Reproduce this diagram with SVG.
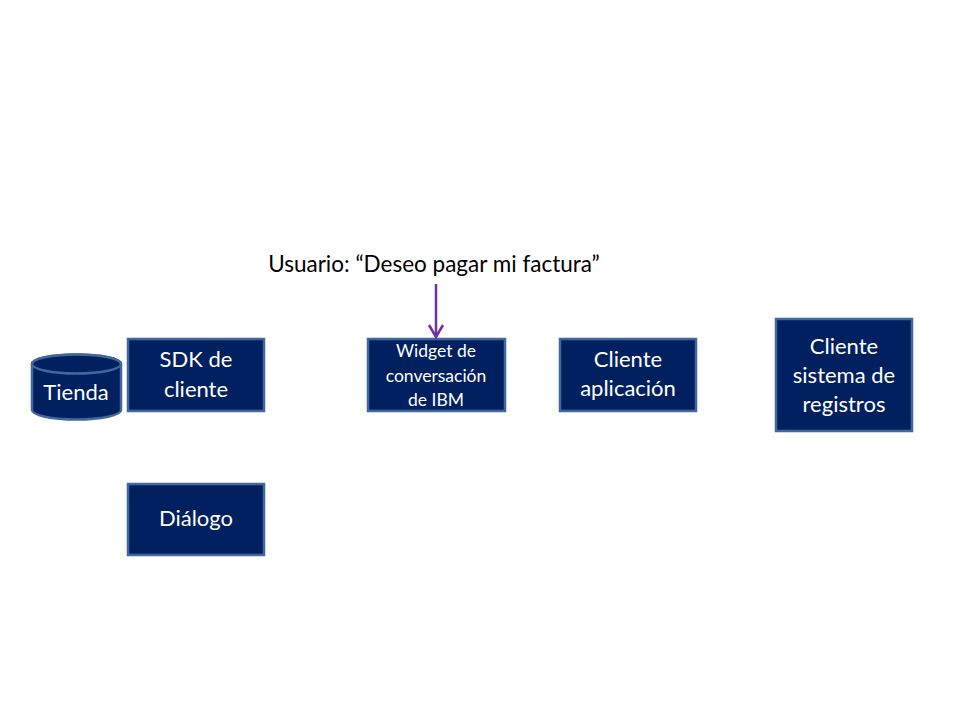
<svg xmlns="http://www.w3.org/2000/svg" width="960" height="720" viewBox="0 0 960 720">
<style>
.box{fill:#002060;stroke:#41689a;stroke-width:2.5}
.t{font-family:Lato,"Open Sans","Liberation Sans",sans-serif;fill:#ffffff;text-anchor:middle}
.l{font-size:22px}
.s{font-size:17.5px}
.arrow{fill:none;stroke:#7030a0;stroke-width:2.5}
</style>
<rect width="960" height="720" fill="#ffffff"/>
<g id="tienda">
<path class="box" d="M32,364 L32,410 A44.5,9.5 0 0 0 121,410 L121,364 A44.5,9.5 0 0 0 32,364 Z"/>
<ellipse class="box" cx="76.5" cy="364" rx="44.5" ry="9.5"/>
<text class="t l" x="76" y="400">Tienda</text>
</g>
<g id="sdk">
<rect class="box" x="128" y="339" width="136" height="72"/>
<text class="t l" x="196" y="367">SDK de</text>
<text class="t l" x="196" y="397">cliente</text>
</g>
<g id="widget">
<rect class="box" x="368" y="339" width="137" height="72"/>
<text class="t s" x="436" y="357">Widget de</text>
<text class="t s" x="436" y="382">conversación</text>
<text class="t s" x="436" y="406">de IBM</text>
</g>
<g id="app">
<rect class="box" x="560" y="339" width="136" height="72"/>
<text class="t l" x="628" y="367">Cliente</text>
<text class="t l" x="628" y="396">aplicación</text>
</g>
<g id="registros">
<rect class="box" x="776" y="319" width="136" height="112"/>
<text class="t l" x="844" y="354">Cliente</text>
<text class="t l" x="844" y="383">sistema de</text>
<text class="t l" x="844" y="412">registros</text>
</g>
<g id="dialogo">
<rect class="box" x="128" y="484" width="136" height="71"/>
<text class="t l" x="196" y="526">Diálogo</text>
</g>
<g id="usuario">
<text x="434" y="272" font-family="Lato,'Open Sans','Liberation Sans',sans-serif" font-size="22.5" fill="#000000" text-anchor="middle">Usuario: “Deseo pagar mi factura”</text>
</g>
<g id="connectors">
<line class="arrow" x1="436" y1="284" x2="436" y2="336"/>
<path class="arrow" d="M429,325 L436,337 L443,325"/>
</g>
</svg>
